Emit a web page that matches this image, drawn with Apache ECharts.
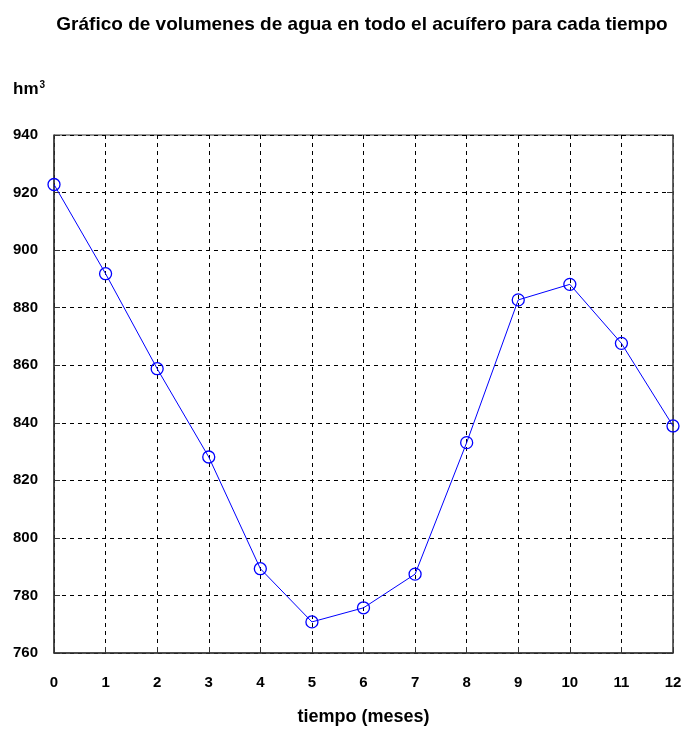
<!DOCTYPE html>
<html>
<head>
<meta charset="utf-8">
<script src="https://cdn.jsdelivr.net/npm/echarts@6/dist/echarts.min.js"></script>
<style>
  html, body { margin: 0; padding: 0; background: #fff; }
  #chart { width: 692px; height: 731px; }
</style>
</head>
<body>
<div id="chart"></div>
<script>
// Months and aquifer water volumes (hm3)
const months = [0, 1, 2, 3, 4, 5, 6, 7, 8, 9, 10, 11, 12];
const volumes = [922.8, 891.8, 858.8, 828.1, 789.3, 770.8, 775.7, 787.4, 833.1, 882.7, 888.1, 867.6, 838.9];
const yTicks = { min: 760, max: 940, step: 20 };
const xTicks = { min: 0, max: 12, step: 1 };

const chart = echarts.init(document.getElementById('chart'));
const font = '"Liberation Sans", Arial, sans-serif';
const gridLine = { show: true, lineStyle: { color: '#000', type: [4, 4], width: 1 } };

chart.setOption({
  animation: false,
  backgroundColor: '#fff',
  title: {
    text: 'Gráfico de volumenes de agua en todo el acuífero para cada tiempo',
    left: 357, top: 10, textAlign: 'center',
    textStyle: { fontFamily: font, fontSize: 19, fontWeight: 'bold', color: '#000' }
  },
  graphic: [{
    type: 'text', left: 13, top: 80,
    style: {
      text: '{b|hm}{s|3}',
      rich: {
        b: { fontFamily: font, fontSize: 17, fontWeight: 'bold', fill: '#000', verticalAlign: 'bottom' },
        s: { fontFamily: font, fontSize: 10, fontWeight: 'bold', fill: '#000', verticalAlign: 'top', padding: [0, 0, 8, 1] }
      }
    }
  }],
  grid: { left: 54, right: 19, top: 135, bottom: 77, show: true, borderColor: '#333', borderWidth: 1, containLabel: false },
  xAxis: {
    type: 'value', min: xTicks.min, max: xTicks.max, interval: xTicks.step,
    name: 'tiempo (meses)', nameLocation: 'middle', nameGap: 55,
    nameTextStyle: { fontFamily: font, fontSize: 18, fontWeight: 'bold', color: '#000' },
    axisLine: { show: true, lineStyle: { color: '#333', width: 1.5 } },
    axisTick: { show: true, inside: true, length: 6, lineStyle: { color: '#333' } },
    axisLabel: { fontFamily: font, fontSize: 15, fontWeight: 'bold', color: '#000', margin: 22 },
    splitLine: gridLine
  },
  yAxis: [{
    type: 'value', min: yTicks.min, max: yTicks.max, interval: yTicks.step,
    axisLine: { show: true, lineStyle: { color: '#333', width: 1.5 } },
    axisTick: { show: true, inside: true, length: 6, lineStyle: { color: '#333' } },
    axisLabel: { fontFamily: font, fontSize: 15, fontWeight: 'bold', color: '#000', margin: 16 },
    splitLine: gridLine
  }, {
    type: 'value', position: 'right', min: yTicks.min, max: yTicks.max, interval: yTicks.step,
    axisLine: { show: true, lineStyle: { color: '#555', width: 1.5 } },
    axisTick: { show: true, inside: true, length: 6, lineStyle: { color: '#333' } },
    axisLabel: { show: false },
    splitLine: { show: false }
  }],
  series: [{
    type: 'line',
    data: months.map((m, i) => [m, volumes[i]]),
    symbol: 'circle', symbolSize: 12,
    itemStyle: { color: 'transparent', borderColor: '#0000ff', borderWidth: 1.3 },
    lineStyle: { color: '#0000ff', width: 1 },
    clip: false
  }]
});
</script>
</body>
</html>
